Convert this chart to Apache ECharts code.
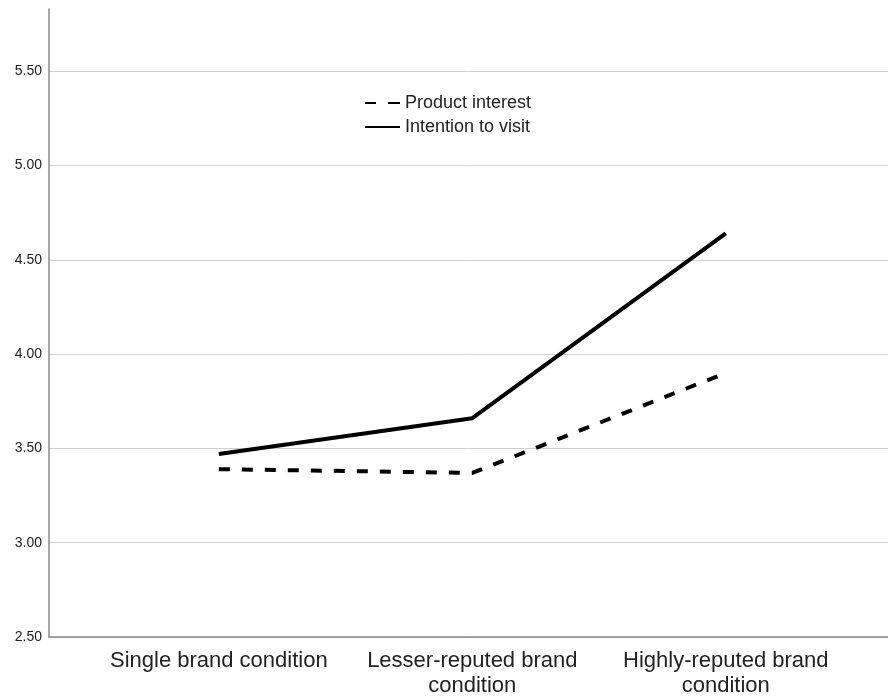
<!DOCTYPE html>
<html>
<head>
<meta charset="utf-8">
<script src="https://cdn.jsdelivr.net/npm/echarts@6/dist/echarts.min.js"></script>
<style>html,body{margin:0;padding:0;background:#fff}#c{width:888px;height:700px}</style>
</head>
<body>
<div id="c"></div>
<script>
var categories = ['Single brand condition', 'Lesser-reputed brand\ncondition', 'Highly-reputed brand\ncondition'];
var seriesNames = ['Product interest', 'Intention to visit'];
var productInterest = [3.39, 3.37, 3.90];
var intentionToVisit = [3.47, 3.66, 4.64];
var yTicks = [2.5, 3.0, 3.5, 4.0, 4.5, 5.0, 5.5];

var legendIcons = ['path://M0,0H11V2H0ZM23,0H35V2H23Z', 'path://M0,0H35V2H0Z'];

function pairs(vals) { return vals.map(function (v, i) { return [i, v]; }); }

var chart = echarts.init(document.getElementById('c'), null, {renderer: 'canvas'});
chart.setOption({
  animation: false,
  backgroundColor: '#fff',
  grid: {left: 49, right: 0, top: 9, bottom: 63, containLabel: false},
  legend: {
    orient: 'vertical', left: 365, top: 94, padding: 0,
    itemWidth: 35, itemHeight: 14, itemGap: 6,
    textStyle: {fontFamily: 'Liberation Sans, Arial', fontSize: 18, color: '#222'},
    data: seriesNames.map(function (n, i) { return {name: n, icon: legendIcons[i]}; })
  },
  xAxis: {
    type: 'value', min: -0.67, max: 2.64,
    axisLine: {show: true, onZero: false, lineStyle: {color: '#8a8a8a', width: 1.5}},
    axisTick: {show: false},
    splitLine: {show: false},
    axisLabel: {
      customValues: [0, 1, 2],
      formatter: function (v) { return categories[Math.round(v)]; },
      fontFamily: 'Liberation Sans, Arial', fontSize: 22, lineHeight: 25, color: '#222', margin: 11
    }
  },
  yAxis: {
    type: 'value', min: yTicks[0], max: 5.83, interval: 0.5,
    axisLine: {show: true, onZero: false, lineStyle: {color: '#8a8a8a', width: 1.5}},
    axisTick: {show: false},
    splitLine: {show: true, showMaxLine: false, lineStyle: {color: '#cfcfcf', width: 1}},
    axisLabel: {
      customValues: yTicks,
      formatter: function (v) { return v.toFixed(2); },
      fontFamily: 'Liberation Sans, Arial', fontSize: 14, color: '#222', margin: 7
    }
  },
  series: [
    {
      name: seriesNames[0], type: 'line', data: pairs(productInterest),
      symbol: 'none', symbolKeepAspect: true, color: '#000',
      lineStyle: {color: '#000', width: 4, type: [11, 12], cap: 'butt'}
    },
    {
      name: seriesNames[1], type: 'line', data: pairs(intentionToVisit),
      symbol: 'none', symbolKeepAspect: true, color: '#000',
      lineStyle: {color: '#000', width: 4}
    }
  ]
});
</script>
</body>
</html>
